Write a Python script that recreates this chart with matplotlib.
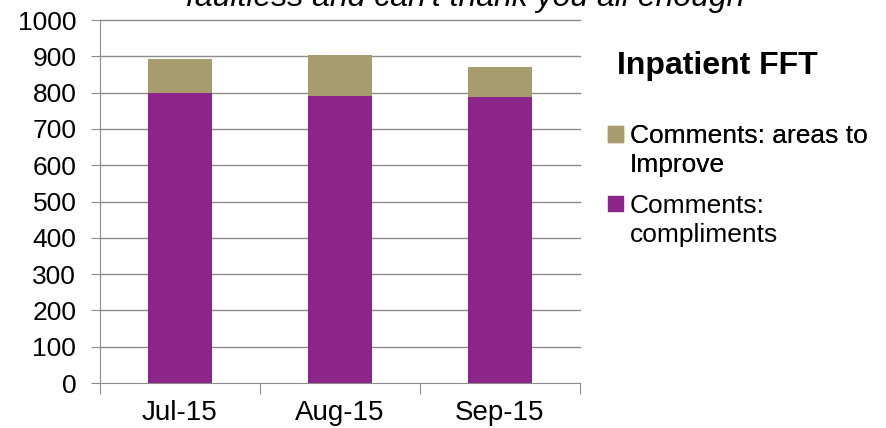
import matplotlib.pyplot as plt
import numpy as np
from matplotlib.patches import Patch

plt.rcParams["font.family"] = ["Liberation Sans", "DejaVu Sans"]

months = ["Jul-15", "Aug-15", "Sep-15"]
compliments = [798, 792, 789]
areas_to_improve = [94, 111, 82]
y_ticks = list(range(0, 1001, 100))

PURPLE = "#8D2489"
TAN = "#A69C6E"
GRID = "#8C8C8C"

fig = plt.figure(figsize=(8.87, 4.28), dpi=100)
ax = fig.add_axes([0.1127, 0.105, 0.541, 0.848])

x = np.arange(len(months))
ax.bar(x, compliments, width=0.4, color=PURPLE, zorder=3)
ax.bar(x, areas_to_improve, width=0.4, bottom=compliments, color=TAN, zorder=3)

ax.set_xlim(-0.5, len(months) - 0.5)
ax.set_ylim(0, 1000)
ax.set_yticks(y_ticks)
ax.tick_params(axis="y", labelsize=19, length=6.5, color=GRID, pad=10.5)

# category labels sit between boundary tick marks
ax.set_xticks(np.arange(-0.5, len(months)), minor=False)
ax.set_xticklabels([])
ax.set_xticks(x, minor=True)
ax.set_xticklabels(months, minor=True, fontsize=20)
ax.tick_params(axis="x", which="major", length=8, color=GRID)
ax.tick_params(axis="x", which="minor", length=0, pad=12)

for t in y_ticks[1:]:
    ax.axhline(t, color=GRID, lw=1, zorder=1, clip_on=False)

for side in ["top", "right"]:
    ax.spines[side].set_visible(False)
for side in ["left", "bottom"]:
    ax.spines[side].set_color(GRID)

fig.text(0.525, 0.986, "faultless and can't thank you all enough",
         fontsize=23, style="italic", ha="center", va="baseline")

fig.text(0.696, 0.846, "Inpatient FFT", fontsize=23, fontweight="bold",
         ha="left", va="center")

# each entry wraps onto a second row; only the first row gets a swatch
blank = Patch(facecolor="none", edgecolor="none")
legend_style = dict(loc="upper left", frameon=False, fontsize=19,
                    handlelength=0.55, handleheight=0.55, handletextpad=0.25,
                    labelspacing=0.2, borderaxespad=0, borderpad=0)
leg_improve = fig.legend([Patch(color=TAN), blank],
                         ["Comments: areas to", "Improve"],
                         bbox_to_anchor=(0.686, 0.710), **legend_style)
fig.legend([Patch(color=PURPLE), blank], ["Comments:", "compliments"],
           bbox_to_anchor=(0.686, 0.547), **legend_style)
fig.add_artist(leg_improve)

fig.savefig("out.png", dpi=100)
